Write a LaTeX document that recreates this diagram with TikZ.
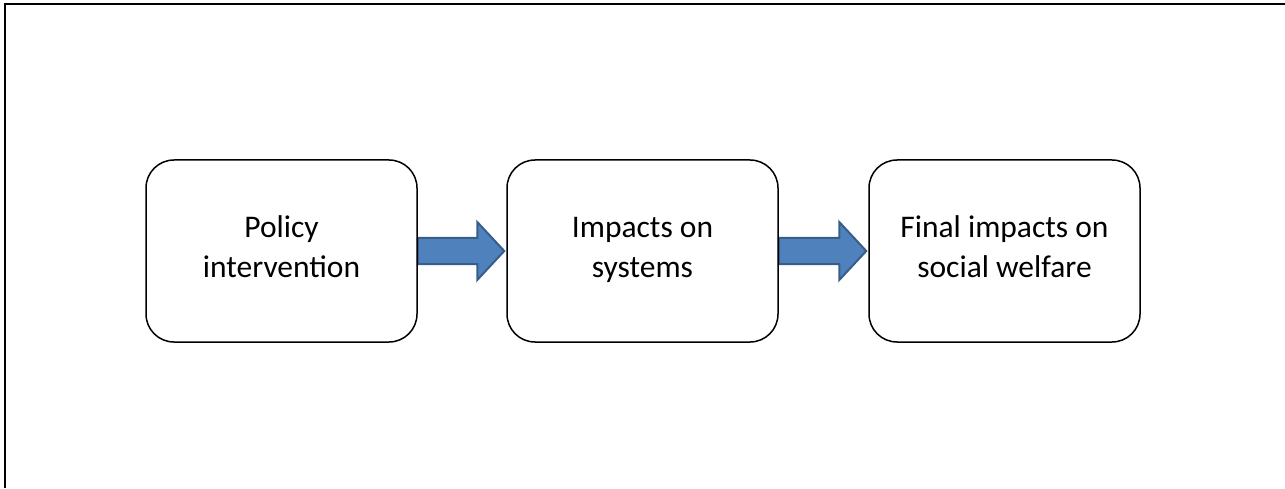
\documentclass[tikz,border=0pt]{standalone}
\usepackage{fontspec}
\setmainfont{Carlito}
\usetikzlibrary{calc,backgrounds}
\definecolor{arrowfill}{HTML}{4F81BD}
\definecolor{arrowline}{HTML}{385D8A}
\tikzset{
  x=1pt, y=1pt,
  stagebox/.style={draw=black, line width=1.5pt, rounded corners=28pt,
    minimum width=271pt, minimum height=182pt, align=center,
    font=\fontsize{31.5}{39.5}\selectfont, inner sep=0pt,
    text height=60pt, text depth=8pt},
  blockarrow/.style={fill=arrowfill, draw=arrowline, line width=2pt, line join=miter},
  frame/.style={draw=black, line width=2pt}
}
\begin{document}
\begin{tikzpicture}
\useasboundingbox (0,0) rectangle (1285,488);
% outer frame (only top and left edges fall inside the page)
\coordinate (fa) at (5,0);
\coordinate (fb) at (5,483.5);
\coordinate (fc) at (1285,483.5);
\draw[frame] (fa) -- (fb) -- (fc);
% stages
\node[stagebox] (policy) at (281.5,237) {Policy\\intervention};
\node[stagebox] (systems) at (642.5,237) {Impacts on\\systems};
\node[stagebox] (welfare) at (1004.5,237) {Final impacts on\\social welfare};
% block arrows between stages
\begin{scope}[on background layer]
\foreach \a/\b in {policy/systems, systems/welfare}{
  \draw[blockarrow]
    ($(\a.east)+(0,13)$) -- ($(\b.west)+(-29,13)$) -- ($(\b.west)+(-29,29)$)
    -- ($(\b.west)+(-2,0)$)
    -- ($(\b.west)+(-29,-29)$) -- ($(\b.west)+(-29,-13)$) -- ($(\a.east)+(0,-13)$) -- cycle;
}
\end{scope}
\end{tikzpicture}
\end{document}
